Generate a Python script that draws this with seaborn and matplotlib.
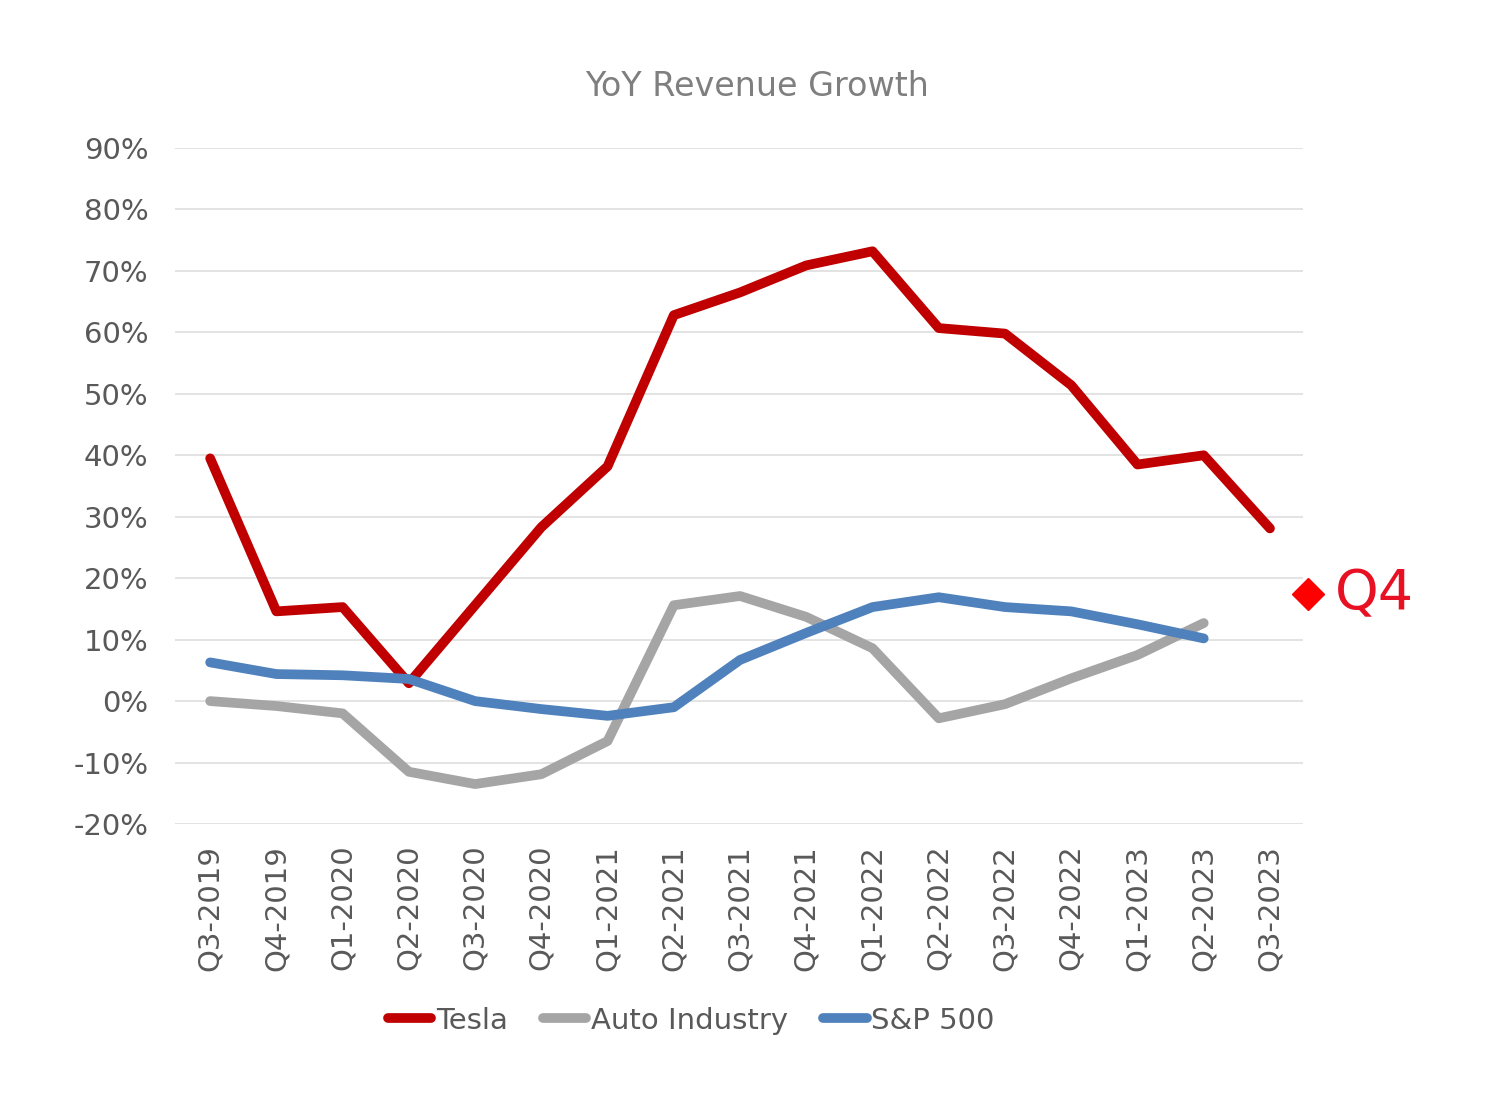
import matplotlib
matplotlib.use("Agg")
import matplotlib.pyplot as plt
import seaborn as sns
import pandas as pd
from matplotlib.lines import Line2D

quarters = ["Q3-2019", "Q4-2019", "Q1-2020", "Q2-2020", "Q3-2020", "Q4-2020",
            "Q1-2021", "Q2-2021", "Q3-2021", "Q4-2021", "Q1-2022", "Q2-2022",
            "Q3-2022", "Q4-2022", "Q1-2023", "Q2-2023", "Q3-2023"]
tesla = [39.5, 14.6, 15.3, 2.9, 15.6, 28.3, 38.2, 62.8, 66.5, 70.9, 73.2,
         60.7, 59.8, 51.4, 38.5, 40.0, 28.1]
auto = [0.0, -0.8, -2.0, -11.5, -13.5, -11.9, -6.5, 15.6, 17.1, 13.7, 8.6,
        -2.8, -0.5, 3.7, 7.5, 12.7]
sp500 = [6.3, 4.4, 4.2, 3.6, 0.0, -1.3, -2.4, -1.0, 6.7, 11.1, 15.3, 16.9,
         15.3, 14.6, 12.5, 10.2]
series_names = ["Tesla", "Auto Industry", "S&P 500"]
series_colors = ["#C00000", "#A5A5A5", "#4F81BD"]
yticks = [-20, -10, 0, 10, 20, 30, 40, 50, 60, 70, 80, 90]
q4_value = 17.4

rows = []
for name, vals in zip(series_names, [tesla, auto, sp500]):
    for q, v in zip(quarters, vals):
        rows.append({"Quarter": q, "Growth": v, "Series": name})
df = pd.DataFrame(rows)
df["x"] = df["Quarter"].map({q: i for i, q in enumerate(quarters)})

sns.set_theme(style="white")
plt.rcParams["font.family"] = ["DejaVu Sans"]

fig = plt.figure(figsize=(14.86, 10.94), dpi=100)
ax = fig.add_axes([0.1178, 0.2468, 0.7591, 0.6179])

sns.lineplot(data=df, x="x", y="Growth", hue="Series", hue_order=series_names,
             palette=series_colors, linewidth=7, sort=False, ax=ax,
             legend=False)

ax.set_ylim(-20, 90)
ax.set_xlim(-0.53, 16.5)
ax.set_yticks(yticks)
ax.set_yticklabels([f"{t}%" for t in yticks], fontsize=21, color="#595959")
ax.set_xticks(range(len(quarters)))
ax.set_xticklabels(quarters, rotation=90, fontsize=21, color="#595959")
ax.tick_params(axis="y", length=0, pad=19)
ax.tick_params(axis="x", length=0, pad=15)
ax.yaxis.grid(True, color="#E0E0E0", linewidth=1.3)
ax.xaxis.grid(False)
for s in ax.spines.values():
    s.set_visible(False)
ax.set_xlabel("")
ax.set_ylabel("")

fig.text(0.5094, 0.921, "YoY Revenue Growth", ha="center", va="center",
         fontsize=24, color="#7F7F7F")

handles = [Line2D([0], [0], color=c, linewidth=7, solid_capstyle="round")
           for c in series_colors]
fig.legend(handles, series_names, loc="center", bbox_to_anchor=(0.465, 0.067),
           ncol=3, frameon=False, fontsize=21, handlelength=1.5,
           handletextpad=0.15, columnspacing=1.2, labelcolor="#595959")

ax.plot([16.57], [q4_value], marker="D", color="#FF0000", markersize=16,
        linestyle="none", clip_on=False)
ax.text(16.98, q4_value, "Q4", color="#E81123", fontsize=40, va="center",
        ha="left", clip_on=False)

fig.savefig("out.png", dpi=100, facecolor="white")
